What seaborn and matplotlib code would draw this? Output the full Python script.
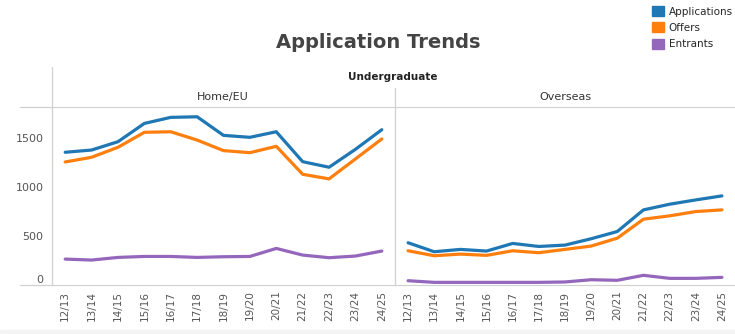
import numpy as np
import pandas as pd
import matplotlib
matplotlib.use("Agg")
import matplotlib.pyplot as plt
from matplotlib.patches import Patch, Rectangle
import seaborn as sns

years = ["12/13", "13/14", "14/15", "15/16", "16/17", "17/18", "18/19",
         "19/20", "20/21", "21/22", "22/23", "23/24", "24/25"]
measures = ["Applications", "Offers", "Entrants"]
colors = ["#1f77b4", "#ff7f0e", "#9467bd"]

home_apps = [1357, 1380, 1465, 1652, 1714, 1720, 1530, 1510, 1567, 1261, 1204, 1387, 1588]
home_offers = [1258, 1306, 1408, 1561, 1567, 1482, 1374, 1353, 1418, 1132, 1085, 1289, 1493]
home_entr = [265, 255, 282, 292, 292, 282, 289, 292, 374, 306, 279, 296, 347]

os_apps = [432, 340, 364, 347, 425, 394, 408, 473, 547, 768, 826, 870, 911]
os_offers = [350, 299, 316, 303, 350, 330, 364, 398, 479, 673, 707, 751, 768]
os_entr = [44, 27, 27, 27, 27, 27, 31, 54, 48, 99, 68, 68, 78]

rows = []
for region, series in [("Home/EU", [home_apps, home_offers, home_entr]),
                       ("Overseas", [os_apps, os_offers, os_entr])]:
    for m, vals in zip(measures, series):
        for i, (y, v) in enumerate(zip(years, vals)):
            rows.append({"region": region, "measure": m, "idx": i, "year": y, "value": v})
df = pd.DataFrame(rows)

sns.set_style("white")
plt.rcParams["font.family"] = ["DejaVu Sans"]

W, H = 735, 334
fig = plt.figure(figsize=(W / 100, H / 100), dpi=100)
fx = lambda px: px / W
fy = lambda py: 1 - py / H

top, bot = 107, 285
ax_l = fig.add_axes([fx(52), fy(bot), fx(395 - 52), (bot - top) / H])
ax_r = fig.add_axes([fx(395), fy(bot), fx(735 - 395), (bot - top) / H], sharey=ax_l)

pal = dict(zip(measures, colors))
for ax, region in [(ax_l, "Home/EU"), (ax_r, "Overseas")]:
    sub = df[df["region"] == region]
    sns.lineplot(data=sub, x="idx", y="value", hue="measure", hue_order=measures,
                 palette=pal, linewidth=2.3, legend=False, ax=ax)
    ax.set_xlim(-0.46, 12.5)
    ax.set_ylim(0, 1820)
    ax.set_xlabel("")
    ax.set_ylabel("")
    ax.set_xticks(range(len(years)))
    ax.set_xticklabels(years, rotation=90, fontsize=7.5, color="#555555")
    ax.set_xticks(np.arange(-0.5, 13, 1), minor=True)
    ax.tick_params(axis="x", which="major", length=0, pad=4)
    ax.tick_params(axis="x", which="minor", length=4, color="#cccccc", width=0.8)
    for s in ["left", "right"]:
        ax.spines[s].set_visible(False)
    ax.spines["top"].set_color("#d0d0d0")
    ax.spines["bottom"].set_color("#d0d0d0")
    ax.set_facecolor("none")

ax_l.set_yticks([0, 500, 1000, 1500])
ax_l.set_yticklabels(["0", "500", "1000", "1500"], fontsize=8, color="#555555")
ax_l.tick_params(axis="y", length=0, pad=6)
ax_l.get_yticklabels()[0].set_va("bottom")
ax_r.tick_params(axis="y", left=False, labelleft=False)

# frame lines
ln = dict(color="#d0d0d0", lw=0.9, transform=fig.transFigure)
fig.add_artist(plt.Line2D([fx(52), fx(52)], [fy(67), fy(bot)], **ln))
fig.add_artist(plt.Line2D([fx(395), fx(395)], [fy(88), fy(bot)], **ln))
fig.add_artist(plt.Line2D([fx(20), fx(52)], [fy(top), fy(top)], **ln))
fig.add_artist(plt.Line2D([fx(20), fx(52)], [fy(bot), fy(bot)], **ln))
fig.add_artist(Rectangle((0, 0), 1, fy(330), transform=fig.transFigure,
                         color="#f4f4f4", zorder=-1))

fig.text(fx(378), fy(43), "Application Trends", ha="center", va="center",
         fontsize=14, fontweight="bold", color="#444444")
fig.text(fx(393), fy(77), "Undergraduate", ha="center", va="center",
         fontsize=7.5, fontweight="bold", color="#222222")
fig.text(fx(223), fy(97), "Home/EU", ha="center", va="center", fontsize=8, color="#333333")
fig.text(fx(565), fy(97), "Overseas", ha="center", va="center", fontsize=8, color="#333333")

handles = [Patch(facecolor=c, edgecolor=c) for c in colors]
fig.legend(handles, measures, loc="upper left", bbox_to_anchor=(fx(648), fy(2)),
           frameon=False, fontsize=7.5, handlelength=1.1, handleheight=1.1,
           handletextpad=0.5, labelspacing=0.55, borderaxespad=0)

fig.savefig("out.png", dpi=100)
